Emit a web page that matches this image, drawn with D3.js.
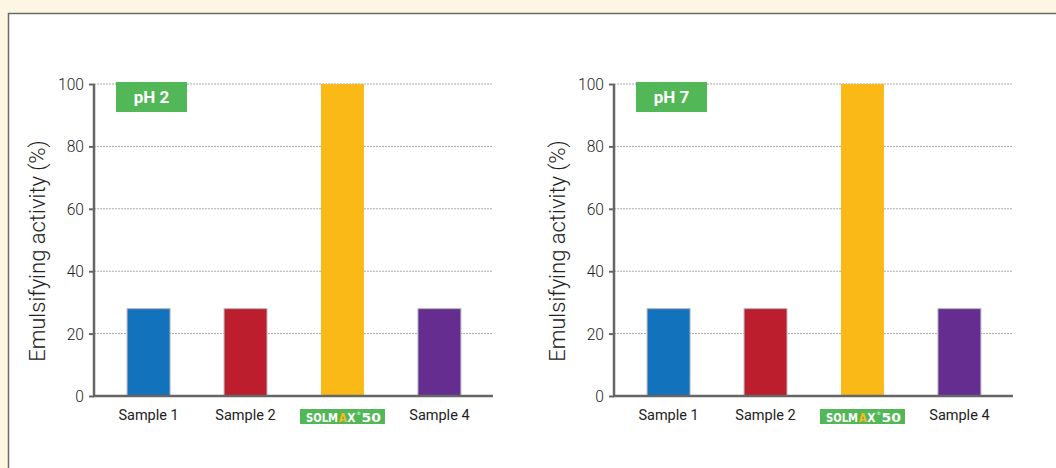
<!DOCTYPE html>
<html><head><meta charset="utf-8">
<script src="https://cdn.jsdelivr.net/npm/d3@7"></script>
<style>
html,body{margin:0;padding:0;background:#fdf6e3;}
svg{display:block;}
text{font-family:"Roboto","Liberation Sans Narrow","DejaVu Sans Condensed",sans-serif;}
</style></head><body>
<svg id="c" width="1056" height="468"></svg>
<script>
const categories = ["Sample 1","Sample 2","SOLMAX 50","Sample 4"];
const valuesPH2 = [28,28,100,28];
const valuesPH7 = [28,28,100,28];
const panelTitles = ["pH 2","pH 7"];
const yTicks = [0,20,40,60,80,100];
const barColors = ["#1272bb","#bc1e2e","#fbb917","#652d8f"];
const yLabel = "Emulsifying activity (%)";

const svg = d3.select("#c");
svg.append("rect").attr("x",0).attr("y",0).attr("width",1056).attr("height",468).attr("fill","#fdf6e3");
svg.append("rect").attr("x",8.5).attr("y",13.5).attr("width",1060).attr("height",470)
  .attr("fill","#fff").attr("stroke","#6b6b6b").attr("stroke-width",1.5);

function drawPanel(ox, values, title){
  const g = svg.append("g").attr("transform",`translate(${ox},0)`);
  const x0=94, x1=493, yTop=84, yBot=396;
  const y = d3.scaleLinear().domain([0,100]).range([yBot,yTop]);
  const x = d3.scaleBand().domain(categories).range([98,490]).paddingInner(0.557).paddingOuter(0.3);

  g.selectAll("line.grid").data(yTicks.filter(d=>d>0)).join("line")
    .attr("x1",x0).attr("x2",x1).attr("y1",d=>y(d)).attr("y2",d=>y(d))
    .attr("stroke","#a8a8a8").attr("stroke-width",1).attr("stroke-dasharray","2,1");

  g.selectAll("rect.bar").data(values).join("rect")
    .attr("x",(d,i)=>x(categories[i])).attr("width",x.bandwidth())
    .attr("y",d=>y(d)).attr("height",d=>yBot-y(d))
    .attr("fill",(d,i)=>barColors[i])
    .attr("stroke",(d,i)=>i===2?"none":"#b8b8c0").attr("stroke-width",1);

  const ya = d3.axisLeft(y).tickValues(yTicks).tickSize(5).tickPadding(5);
  const ag = g.append("g").attr("transform",`translate(${x0},0)`).call(ya);
  ag.select(".domain").remove();
  ag.selectAll(".tick line").attr("stroke","#666").attr("stroke-width",2);
  ag.selectAll(".tick text").attr("font-size",17).attr("fill","#222").attr("font-weight",300)
    .attr("transform","scale(0.92,1)").attr("x",-10/0.92);
  g.append("line").attr("x1",x0).attr("x2",x0).attr("y1",yTop).attr("y2",yBot+1).attr("stroke","#666").attr("stroke-width",2.5);
  g.append("line").attr("x1",x0-1).attr("x2",x1).attr("y1",yBot).attr("y2",yBot).attr("stroke","#666").attr("stroke-width",2.5);

  const logoFont = "'DejaVu Sans',sans-serif";
  function logoText(xp, len, str, fill){
    const t = g.append("text").attr("x",0).attr("y",0)
      .attr("font-size",12.5).attr("font-weight",900).attr("fill",fill)
      .style("font-family",logoFont).text(str);
    const w = t.node().getComputedTextLength() || len;
    t.attr("transform",`translate(${xp},422) scale(${len/w},1)`);
    return t;
  }
  categories.forEach((c,i)=>{
    const cx = x(c)+x.bandwidth()/2;
    if(c==="SOLMAX 50"){
      g.append("rect").attr("x",cx-42.5).attr("y",409).attr("width",85).attr("height",15).attr("fill","#52b857");
      logoText(cx-36.5, 32, "SOLM", "#fff");
      logoText(cx-3.8, 8, "A", "#fbb917");
      logoText(cx+4.8, 8.3, "X", "#fff");
      g.append("text").attr("x",cx+14).attr("y",414.5).attr("font-size",4.5).attr("fill","#fff")
        .style("font-family",logoFont).text("®");
      logoText(cx+19, 19.5, "50", "#fff");
    } else {
      g.append("text").attr("x",cx).attr("y",420).attr("text-anchor","middle")
        .attr("font-size",14.5).attr("fill","#222").text(c);
    }
  });

  g.append("rect").attr("x",116).attr("y",82).attr("width",71).attr("height",30).attr("fill","#52b857");
  g.append("text").attr("x",151.5).attr("y",103).attr("text-anchor","middle")
    .attr("font-size",17).attr("font-weight",700).attr("fill","#fff").text(title);

  g.append("text").attr("transform",`translate(45,251) rotate(-90)`).attr("text-anchor","middle")
    .attr("font-size",22).attr("font-weight",300).attr("fill","#222").text(yLabel);
}
drawPanel(0, valuesPH2, panelTitles[0]);
drawPanel(520, valuesPH7, panelTitles[1]);
</script></body></html>
